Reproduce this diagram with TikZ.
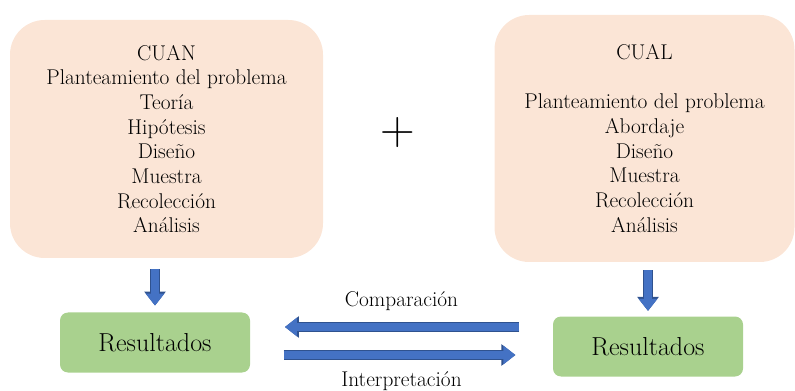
\documentclass[tikz,border=0pt]{standalone}
\usepackage{fontspec}
\usetikzlibrary{arrows.meta, positioning, calc}
\definecolor{peach}{HTML}{FBE5D6}
\definecolor{leaf}{HTML}{A9D18E}
\definecolor{arrowblue}{HTML}{4472C4}
\definecolor{arrowedge}{HTML}{2F528F}

\begin{document}
\begin{tikzpicture}[
                x=0.75pt, y=-0.75pt,
                fase/.style = {rectangle, rounded corners=26pt, fill=peach, align=center, inner sep=0pt, font=\fontsize{16}{18.5}\selectfont},
                result/.style = {rectangle, rounded corners=6pt, fill=leaf, minimum width=142.5pt, minimum height=45pt, font=\fontsize{19.5}{23}\selectfont},
                flowtext/.style = {font=\fontsize{16}{19}\selectfont},
                barrow/.style = {line width=6pt, draw=arrowblue, -{Triangle[width=13.5pt, length=9pt]},
                                 preaction={draw=arrowedge, line width=7.5pt, -{Triangle[width=15.5pt, length=10.5pt]}}}
              ]
              \useasboundingbox (0,0) rectangle (795,391);
              % Phases
              \node[fase, minimum width=234.75pt, minimum height=178.5pt] (cuan) at (166.5,139)
                {CUAN\\Planteamiento del problema\\Teoría\\Hipótesis\\Diseño\\Muestra\\Recolección\\Análisis};
              \node[fase, minimum width=225pt, minimum height=185.25pt] (cual) at (644.5,138.5)
                {CUAL\\[18.5pt]Planteamiento del problema\\Abordaje\\Diseño\\Muestra\\Recolección\\Análisis};
              \node[font=\fontsize{36}{36}\selectfont] (plus) at (398,133) {+};
              % Results
              \node[result] (res1) at (155,342.5) {Resultados};
              \node[result] (res2) at (648,346.5) {Resultados};
              % Arrows
              \draw[barrow, shorten <=8pt, shorten >=5pt] (res1.north |- cuan.south) -- (res1.north);
              \draw[barrow, shorten <=6pt, shorten >=4pt] (res2.north |- cual.south) -- (res2.north);
              \draw[barrow, shorten <=25pt, shorten >=26pt] ($(res2.west)+(0,-19.5)$) -- ($(res1.east)+(0,-15.5)$)
                node[flowtext, midway, above=6pt] (comp) {Comparación};
              \draw[barrow, shorten <=25pt, shorten >=28pt] ($(res1.east)+(0,12.5)$) -- ($(res2.west)+(0,8.5)$)
                node[flowtext, midway, below=6pt] (interp) {Interpretación};
            \end{tikzpicture}
\end{document}
